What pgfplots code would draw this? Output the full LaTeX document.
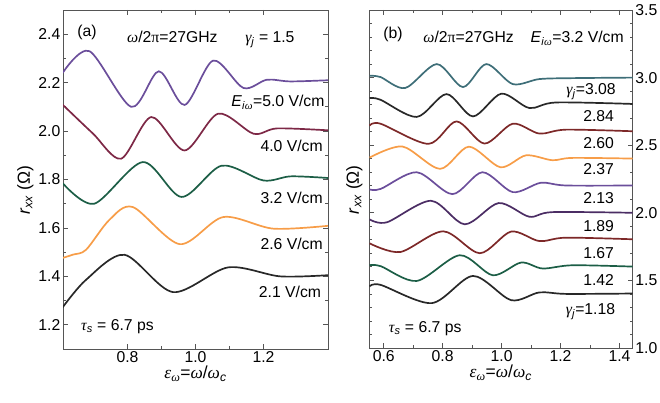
\documentclass[border=0pt]{standalone}
\usepackage{fontspec}
\setmainfont{Liberation Sans}
\newfontfamily\serif{Liberation Serif}
\usepackage{pgfplots}
\pgfplotsset{compat=1.18}

\definecolor{cpurple}{RGB}{107,78,155}
\definecolor{cwine}{RGB}{125,40,70}
\definecolor{cgreen}{RGB}{28,94,70}
\definecolor{corange}{RGB}{247,157,72}
\definecolor{cblack}{RGB}{40,40,40}
\definecolor{cteal}{RGB}{62,110,120}
\definecolor{cbrown}{RGB}{125,40,40}
\definecolor{cdpurple}{RGB}{75,45,100}
\definecolor{frame}{RGB}{85,85,85}

\newcommand{\fs}{\fontsize{15.8}{18}\selectfont}
\newcommand{\fl}{\fontsize{17.5}{20}\selectfont}
% Greek letters set in Times-like italic, as in the original figure
\newcommand{\gi}[1]{{\serif\itshape #1}}
\newcommand{\gu}[1]{{\serif #1}}

\pgfplotsset{
  panel/.style={
    scale only axis,
    anchor=south west,
    axis line style={frame, line width=0.9pt},
    tick style={frame, line width=0.8pt},
    major tick length=5bp, minor tick length=3bp,
    tick align=inside,
    font=\fs,
    ticklabel style={font=\fs, inner sep=2.5bp},
    /pgf/number format/assume math mode=true,
    /pgf/number format/fixed,
    /pgf/number format/fixed zerofill,
    /pgf/number format/precision=1,
    minor x tick num=1,
    clip=true,
    every axis plot/.append style={line width=1.7pt, smooth, no markers},
    xlabel={\gi{ε}\textsubscript{\gi{ω}}=\gi{ω}/\gi{ω}\textsubscript{\textit{c}}},
    xlabel style={font=\fl, yshift=3bp},
    ylabel={\textit{r}\textsubscript{\textit{xx}} (Ω)},
    ylabel style={font=\fl},
  },
}

\begin{document}
\begin{tikzpicture}
\path[use as bounding box] (0,0) rectangle (660bp,403bp);

% ---------------- panel (a) ----------------
\begin{axis}[panel,
  at={(63bp,54bp)}, width=265bp, height=339bp,
  xmin=0.61, xmax=1.39, ymin=1.1, ymax=2.5,
  xtick={0.8,1.0,1.2},
  ytick={1.2,1.4,1.6,1.8,2.0,2.2,2.4},
  minor y tick num=1,
  ylabel style={at={(ticklabel cs:0.468)}, yshift=-1bp},
]
\addplot[cpurple] coordinates {(0.609,2.24) (0.688,2.33) (0.811,2.10) (0.892,2.247) (0.968,2.108) (1.052,2.291) (1.141,2.178) (1.21,2.212) (1.279,2.205) (1.392,2.21)};
\addplot[cwine] coordinates {(0.609,2.109) (0.698,1.99) (0.781,1.886) (0.870,2.058) (0.968,1.920) (1.067,2.072) (1.171,1.989) (1.24,2.011) (1.392,2.003)};
\addplot[cgreen] coordinates {(0.609,1.785) (0.702,1.70) (0.845,1.872) (0.959,1.728) (1.077,1.857) (1.20,1.796) (1.28,1.813) (1.392,1.806)};
\addplot[corange] coordinates {(0.609,1.476) (0.64,1.49) (0.678,1.51) (0.747,1.634) (0.816,1.686) (0.954,1.533) (1.082,1.645) (1.229,1.597) (1.392,1.609)};
\addplot[cblack] coordinates {(0.609,1.272) (0.678,1.386) (0.791,1.489) (0.934,1.335) (1.096,1.437) (1.249,1.40) (1.392,1.405)};

\node[anchor=west, inner sep=0] at (axis cs:0.652,2.406) {(a)};
\node[anchor=base, inner sep=0] at (axis cs:0.932,2.365) {\gi{ω}/2\gu{π}=27GHz};
\node[anchor=base, inner sep=0] at (axis cs:1.219,2.365) {\gi{γ}\textsubscript{\textit{j}} = 1.5};
\node[anchor=base east, inner sep=0] at (axis cs:1.380,2.10) {\textit{E}\textsubscript{\textit{i}\gi{ω}}=5.0 V/cm};
\node[anchor=base east, inner sep=0] at (axis cs:1.375,1.916) {4.0 V/cm};
\node[anchor=base east, inner sep=0] at (axis cs:1.375,1.702) {3.2 V/cm};
\node[anchor=base east, inner sep=0] at (axis cs:1.375,1.510) {2.6 V/cm};
\node[anchor=base east, inner sep=0] at (axis cs:1.370,1.314) {2.1 V/cm};
\node[anchor=base west, inner sep=0] at (axis cs:0.663,1.176) {\gi{τ}\textsubscript{\textit{s}} = 6.7 ps};
\end{axis}

% ---------------- panel (b) ----------------
\begin{axis}[panel,
  at={(369bp,55bp)}, width=263.7bp, height=338bp,
  xmin=0.55, xmax=1.445, ymin=1.0, ymax=3.5,
  xtick={0.6,0.8,1.0,1.2,1.4},
  ytick={1.0,1.5,2.0,2.5,3.0,3.5},
  minor y tick num=4,
  yticklabel pos=right,
  ylabel style={at={(rel axis cs:0,0.468)}, anchor=south, yshift=3bp},
]
\addplot[cteal] coordinates {(0.552,3.013) (0.589,3.004) (0.673,2.923) (0.780,3.10) (0.869,2.930) (0.948,3.10) (1.038,2.952) (1.128,2.989) (1.24,2.996) (1.447,3.0)};
\addplot[cblack] coordinates {(0.552,2.849) (0.589,2.836) (0.712,2.709) (0.813,2.878) (0.903,2.713) (0.999,2.881) (1.094,2.775) (1.184,2.816) (1.447,2.805)};
\addplot[cbrown] coordinates {(0.552,2.645) (0.589,2.659) (0.752,2.510) (0.847,2.676) (0.942,2.512) (1.038,2.659) (1.128,2.586) (1.218,2.615) (1.447,2.603)};
\addplot[corange] coordinates {(0.552,2.408) (0.664,2.490) (0.791,2.325) (0.889,2.489) (0.996,2.337) (1.083,2.425) (1.172,2.389) (1.24,2.406) (1.447,2.401)};
\addplot[cpurple] coordinates {(0.552,2.173) (0.59,2.177) (0.712,2.30) (0.833,2.138) (0.935,2.30) (1.038,2.153) (1.133,2.222) (1.218,2.202) (1.447,2.202)};
\addplot[cdpurple] coordinates {(0.552,1.951) (0.611,1.93) (0.760,2.089) (0.875,1.915) (0.990,2.072) (1.094,1.971) (1.172,2.005) (1.447,2.0)};
\addplot[cbrown] coordinates {(0.552,1.774) (0.656,1.710) (0.802,1.863) (0.926,1.701) (1.032,1.861) (1.128,1.791) (1.218,1.816) (1.447,1.804)};
\addplot[cgreen] coordinates {(0.552,1.612) (0.59,1.605) (0.712,1.496) (0.858,1.686) (0.970,1.538) (1.066,1.632) (1.139,1.588) (1.24,1.612) (1.447,1.602)};
\addplot[cblack] coordinates {(0.552,1.455) (0.589,1.467) (0.763,1.332) (0.903,1.533) (1.032,1.354) (1.128,1.411) (1.22,1.400) (1.447,1.403)};

\node[anchor=west, inner sep=0] at (axis cs:0.598,3.321) {(b)};
\node[anchor=base, inner sep=0] at (axis cs:0.888,3.259) {\gi{ω}/2\gu{π}=27GHz};
\node[anchor=base east, inner sep=0] at (axis cs:1.415,3.259) {\textit{E}\textsubscript{\textit{i}\gi{ω}}=3.2 V/cm};
\node[anchor=base east, inner sep=0] at (axis cs:1.388,2.873) {\gi{γ}\textsubscript{\textit{j}}=3.08};
\node[anchor=base east, inner sep=0] at (axis cs:1.382,2.676) {2.84};
\node[anchor=base east, inner sep=0] at (axis cs:1.382,2.473) {2.60};
\node[anchor=base east, inner sep=0] at (axis cs:1.382,2.283) {2.37};
\node[anchor=base east, inner sep=0] at (axis cs:1.382,2.069) {2.13};
\node[anchor=base east, inner sep=0] at (axis cs:1.382,1.861) {1.89};
\node[anchor=base east, inner sep=0] at (axis cs:1.382,1.664) {1.67};
\node[anchor=base east, inner sep=0] at (axis cs:1.382,1.459) {1.42};
\node[anchor=base east, inner sep=0] at (axis cs:1.386,1.251) {\gi{γ}\textsubscript{\textit{j}}=1.18};
\node[anchor=base west, inner sep=0] at (axis cs:0.617,1.116) {\gi{τ}\textsubscript{\textit{s}} = 6.7 ps};
\end{axis}
\end{tikzpicture}
\end{document}
